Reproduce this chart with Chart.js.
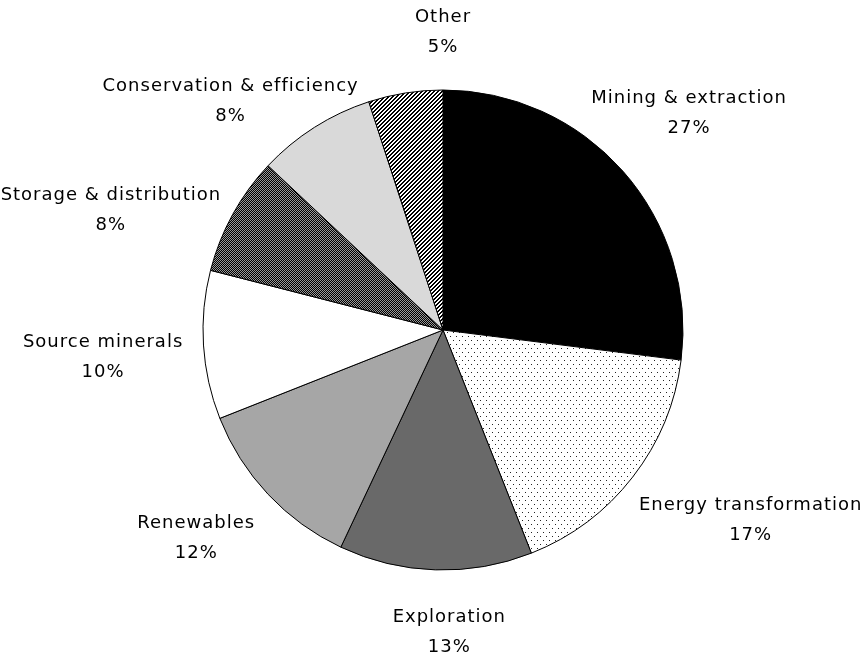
<!DOCTYPE html>
<html>
<head>
<meta charset="utf-8">
<script src="https://cdn.jsdelivr.net/npm/chart.js@4"></script>
<style>
  html, body { margin: 0; padding: 0; background: #fff; }
  canvas { display: block; }
</style>
</head>
<body>
<canvas id="pie" width="862" height="657"></canvas>
<script>
// Share of activity by segment (percent)
const categories = [
  'Mining & extraction',
  'Energy transformation',
  'Exploration',
  'Renewables',
  'Source minerals',
  'Storage & distribution',
  'Conservation & efficiency',
  'Other'
];
const shares = [27, 17, 13, 12, 10, 8, 8, 5];
const shareLabels = ['27%', '17%', '13%', '12%', '10%', '8%', '8%', '5%'];

// Label placement around the pie: angular nudge (degrees) and distance beyond the rim (px)
const labelAngleNudge = [0, -6, -3, 3, -1, -9, -10.5, 9];
const labelRimGap = [88, 122, 62, 83, 101, 113, 72, 58];

function makeTile(w, h, draw) {
  const c = document.createElement('canvas');
  c.width = w; c.height = h;
  const g = c.getContext('2d');
  draw(g);
  return g.createPattern(c, 'repeat');
}
const ctx0 = document.getElementById('pie').getContext('2d');

// sparse staggered dots
const dots = makeTile(6, 8, g => {
  g.fillStyle = '#fff'; g.fillRect(0, 0, 6, 8);
  g.fillStyle = '#222';
  g.fillRect(0, 0, 1, 1);
  g.fillRect(3, 4, 1, 1);
});
// fine dark checker
const checker = makeTile(2, 2, g => {
  g.fillStyle = '#000'; g.fillRect(0, 0, 2, 2);
  g.fillStyle = '#9a9a9a';
  g.fillRect(0, 0, 1, 1);
  g.fillRect(1, 1, 1, 1);
});
// upward diagonal stripes
const stripes = makeTile(4, 4, g => {
  g.fillStyle = '#fff'; g.fillRect(0, 0, 4, 4);
  g.fillStyle = '#000';
  for (let x = 0; x < 4; x++) for (let y = 0; y < 4; y++) {
    if ((x + y) % 4 < 2) g.fillRect(x, y, 1, 1);
  }
});

const fills = ['#000000', dots, '#696969', '#a6a6a6', '#ffffff', checker, '#d9d9d9', stripes];

const outsideLabels = {
  id: 'outsideLabels',
  afterDatasetsDraw(chart) {
    const { ctx } = chart;
    const meta = chart.getDatasetMeta(0);
    ctx.save();
    ctx.fillStyle = '#000';
    ctx.font = '18px "DejaVu Sans"';
    ctx.textAlign = 'center';
    ctx.textBaseline = 'middle';
    if ('letterSpacing' in ctx) ctx.letterSpacing = '1px';
    meta.data.forEach((arc, i) => {
      const p = arc.getProps(['x', 'y', 'startAngle', 'endAngle', 'outerRadius'], true);
      const mid = (p.startAngle + p.endAngle) / 2 + labelAngleNudge[i] * Math.PI / 180;
      const d = p.outerRadius + labelRimGap[i];
      const cx = p.x + Math.cos(mid) * d;
      const cy = p.y + Math.sin(mid) * d;
      ctx.fillText(categories[i], cx, cy - 15);
      ctx.fillText(shareLabels[i], cx, cy + 15);
    });
    ctx.restore();
  }
};

new Chart(ctx0, {
  type: 'pie',
  data: {
    labels: categories,
    datasets: [{
      data: shares,
      backgroundColor: fills,
      borderColor: '#000',
      borderWidth: 1
    }]
  },
  options: {
    responsive: false,
    animation: false,
    radius: 240,
    layout: { padding: { left: 202, right: 178, top: 90, bottom: 87 } },
    plugins: {
      legend: { display: false },
      tooltip: { enabled: false }
    }
  },
  plugins: [outsideLabels]
});
</script>
</body>
</html>
